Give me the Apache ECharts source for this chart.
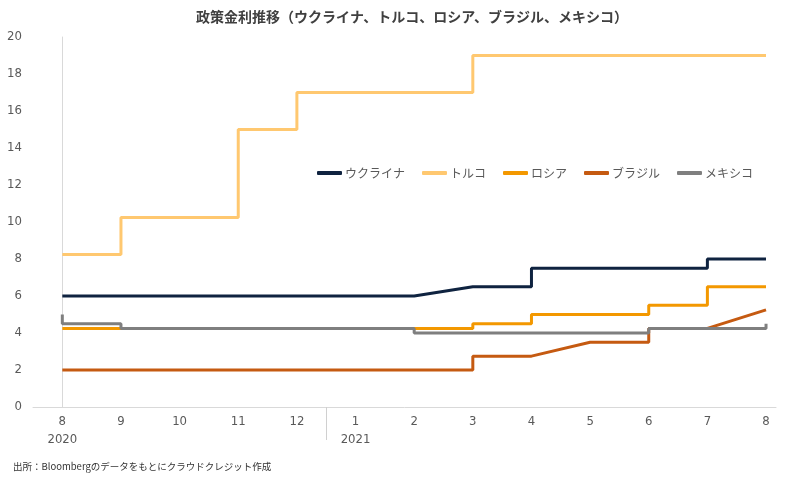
<!DOCTYPE html>
<html>
<head>
<meta charset="utf-8">
<script src="https://cdn.jsdelivr.net/npm/echarts@6/dist/echarts.min.js"></script>
<style>
html,body{margin:0;padding:0;background:#fff;}
#main{width:800px;height:480px;}
</style>
</head>
<body>
<div id="main"></div>
<script>
// x = month offset from Aug 2020 (0) to Aug 2021 (12)
var monthLabels = ['8','9','10','11','12','1','2','3','4','5','6','7','8'];
var yearLabels = {0:'2020', 5:'2021'};
var seriesNames = ['ウクライナ','トルコ','ロシア','ブラジル','メキシコ'];
var ukraine = [[0,6],[6,6],[7,6.5],[8,6.5],[8,7.5],[11,7.5],[11,8],[12,8]];
var turkey  = [[0,8.25],[1,8.25],[1,10.25],[3,10.25],[3,15],[4,15],[4,17],[7,17],[7,19],[12,19]];
var russia  = [[0,4.25],[7,4.25],[7,4.5],[8,4.5],[8,5],[10,5],[10,5.5],[11,5.5],[11,6.5],[12,6.5]];
var brazil  = [[0,2],[7,2],[7,2.75],[8,2.75],[9,3.5],[10,3.5],[10,4.25],[11,4.25],[12,5.25]];
var mexico  = [[0,5],[0,4.5],[1,4.5],[1,4.25],[6,4.25],[6,4],[10,4],[10,4.25],[12,4.25],[12,4.5]];
var colors = ['#0f2340','#ffc870','#f39800','#c55a11','#7f7f7f'];
var allData = [ukraine, turkey, russia, brazil, mexico];
var yearBoundary = [4.5];

var chart = echarts.init(document.getElementById('main'));
var tickFont = '"DejaVu Sans Condensed", "DejaVu Sans", sans-serif';
var cjkFont = '"Noto Sans CJK JP", "Noto Sans", sans-serif';

chart.setOption({
  animation: false,
  backgroundColor: '#fff',
  title: [{
    text: '政策金利推移（ウクライナ、トルコ、ロシア、ブラジル、メキシコ）',
    left: 407, top: 5, textAlign: 'center',
    textStyle: {fontFamily: cjkFont, fontSize: 14, fontWeight: 'bold', color: '#404040'}
  }, {
    text: '出所：Bloombergのデータをもとにクラウドクレジット作成',
    left: 8, top: 457,
    textStyle: {fontFamily: cjkFont, fontSize: 9.5, fontWeight: 'normal', color: '#333'}
  }],
  legend: {
    data: seriesNames,
    left: 312, top: 162,
    icon: 'roundRect',
    itemWidth: 25, itemHeight: 4,
    itemGap: 17,
    textStyle: {fontFamily: cjkFont, fontSize: 12, color: '#595959', padding: [0,0,0,-2]}
  },
  grid: {left: 33, right: 24, top: 37, bottom: 73, containLabel: false},
  xAxis: {
    type: 'value', min: -0.5, max: 12.17,
    axisLine: {show: true, lineStyle: {color: '#d9d9d9', width: 1}},
    axisTick: {show: true, customValues: yearBoundary, length: 33, lineStyle: {color: '#d0d0d0'}},
    splitLine: {show: false},
    axisLabel: {
      customValues: monthLabels.map(function(_, i){ return i; }),
      margin: 6,
      fontFamily: tickFont, fontSize: 13, color: '#595959', lineHeight: 18,
      formatter: function(v){
        var i = Math.round(v);
        var s = monthLabels[i];
        if (yearLabels[i]) s += '\n' + yearLabels[i];
        return s;
      }
    }
  },
  yAxis: {
    type: 'value', min: 0, max: 20, interval: 2,
    axisLine: {show: true, lineStyle: {color: '#d9d9d9', width: 1}},
    axisTick: {show: false},
    splitLine: {show: false},
    axisLabel: {margin: 11, fontFamily: tickFont, fontSize: 13, color: '#595959'}
  },
  series: seriesNames.map(function(name, i){
    return {
      name: name, type: 'line', data: allData[i],
      showSymbol: false, symbol: 'none',
      lineStyle: {width: 3, color: colors[i]},
      itemStyle: {color: colors[i]},
      z: 2 + i
    };
  })
});
</script>
</body>
</html>
